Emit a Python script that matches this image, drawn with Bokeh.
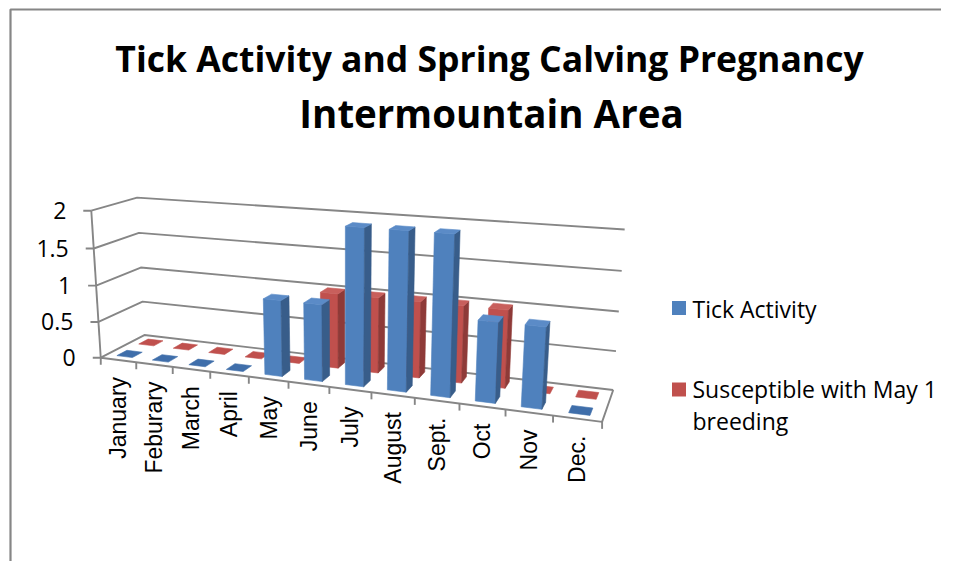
import numpy as np
from bokeh.plotting import figure
from bokeh.models import Range1d, ColumnDataSource
from bokeh.embed import file_html
from bokeh.resources import INLINE
from bokeh.core.properties import value

# ---------------- data ----------------
months = ["January", "Feburary", "March", "April", "May", "June", "July",
          "August", "Sept.", "Oct", "Nov", "Dec."]
tick_activity = [0, 0, 0, 0, 1, 1, 2, 2, 2, 1, 1, 0]
susceptible = [0, 0, 0, 0, 0, 1, 1, 1, 1, 1, 0, 0]
value_ticks = [0, 0.5, 1, 1.5, 2]
value_tick_labels = ["0", "0.5", "1", "1.5", "2"]
series_names = ["Tick Activity", "Susceptible with May 1", "breeding"]
title_lines = ["Tick Activity and Spring Calving Pregnancy", "Intermountain Area"]

# ---------------- 3-D camera (Excel-like perspective) ----------------
YAW = np.radians(20.45)     # rotation around the vertical axis
PITCH = np.radians(14.91)   # elevation
DIST = 23.47                # perspective distance (category units)
SCALE = 43.64               # px per category unit
CX, CY = 344.6, 297.4       # screen centre of the box
DEPTH = 2.023               # floor depth (category units)
HUNIT = 1.819               # height of one value unit (category units)
N = len(months)


def proj(X, Yf, V):
    X = np.asarray(X, float); Yf = np.asarray(Yf, float); V = np.asarray(V, float)
    x = X - N / 2.0
    z = (Yf - 0.5) * DEPTH
    y = HUNIT * (V - 1.0)
    xc = x * np.cos(YAW) + z * np.sin(YAW)
    z1 = -x * np.sin(YAW) + z * np.cos(YAW)
    yc = y * np.cos(PITCH) + z1 * np.sin(PITCH)
    zc = z1 * np.cos(PITCH) - y * np.sin(PITCH)
    s = DIST / (DIST + zc)
    return CX + SCALE * xc * s, CY - SCALE * yc * s


# ---------------- figure ----------------
W, H = 941, 561
p = figure(width=W, height=H, output_backend="svg", toolbar_location=None,
           x_range=Range1d(0, W), y_range=Range1d(H, 0), min_border=0)
p.axis.visible = False
p.grid.visible = False
p.outline_line_color = None
p.background_fill_color = "white"
p.border_fill_color = "white"

GRID = "#868686"

# chart border (top + left)
p.line([10, 10, 2000], [2000, 9, 9], line_color=GRID, line_width=2.2)

# wall gridlines
gx, gy = [], []
for v in value_ticks:
    sx, sy = proj([0, 0, N], [0, 1, 1], [v, v, v])
    gx.append(list(map(float, sx))); gy.append(list(map(float, sy)))
# floor front + right edges
fx, fy = proj([0, N, N], [0, 0, 1], [0, 0, 0])
gx.append(list(map(float, fx))); gy.append(list(map(float, fy)))
# value axis
ax_, ay_ = proj([0, 0], [0, 0], [0, max(value_ticks)])
gx.append(list(map(float, ax_))); gy.append(list(map(float, ay_)))
# value ticks
for v in value_ticks:
    tx_, ty_ = proj(0, 0, v)
    gx.append([float(tx_) - 8, float(tx_)]); gy.append([float(ty_), float(ty_)])
# category ticks
for i in range(N + 1):
    tx_, ty_ = proj(i, 0, 0)
    gx.append([float(tx_), float(tx_)]); gy.append([float(ty_), float(ty_) + 7])
p.multi_line(gx, gy, line_color=GRID, line_width=1.9)

# ---------------- bars ----------------
BW = 0.44
BD = 0.225
colors = [
    dict(front="#4F81BD", side="#385D8A", top="#5B8BC7", flat="#3F6EAA"),
    dict(front="#C0504D", side="#8E3A38", top="#C85F5C", flat="#C0504D"),
]
series = [tick_activity, susceptible]
xs, ys, fc = [], [], []
for s in [1, 0]:
    yc = (s + 0.5) / 2.0
    y0, y1 = yc - BD / 2, yc + BD / 2
    for c in range(N):
        v = series[s][c]
        x0, x1 = c + 0.5 - BW / 2, c + 0.5 + BW / 2
        if v > 0:
            faces = [
                ([x0, x1, x1, x0], [y0, y0, y0, y0], [0, 0, v, v], colors[s]["front"]),
                ([x1, x1, x1, x1], [y0, y1, y1, y0], [0, 0, v, v], colors[s]["side"]),
                ([x0, x1, x1, x0], [y0, y0, y1, y1], [v, v, v, v], colors[s]["top"]),
            ]
        else:
            faces = [([x0, x1, x1, x0], [y0, y0, y1, y1], [0, 0, 0, 0], colors[s]["flat"])]
        for X, Y, V, col in faces:
            sx, sy = proj(X, Y, V)
            xs.append(list(map(float, sx))); ys.append(list(map(float, sy))); fc.append(col)
p.patches("xs", "ys", source=ColumnDataSource(dict(xs=xs, ys=ys, fc=fc)),
          fill_color="fc", line_color="fc", line_width=0.6)

# ---------------- labels ----------------
vx, vy = [], []
for v in value_ticks:
    tx_, ty_ = proj(0, 0, v)
    vx.append(float(tx_) - 25); vy.append(float(ty_))
p.text(vx, vy, text=value_tick_labels, text_align="right", text_baseline="middle",
       text_font=value("Open Sans"), text_font_size="23px", text_color="#000000")

cx_, cy_ = proj(np.arange(N) + 0.5, np.zeros(N), np.zeros(N))
p.text(list(map(float, cx_)), list(map(float, cy_ + 17)), text=months, angle=np.pi / 2,
       text_align="right", text_baseline="middle",
       text_font=value("Liberation Sans"), text_font_size="23px", text_color="#000000")

# title
p.text([489], [57], text=[title_lines[0]], text_align="center", text_baseline="middle",
       text_font=value("Open Sans"), text_font_style="bold", text_font_size="35.5px",
       text_color="#000000")
p.text([491], [112], text=[title_lines[1]], text_align="center", text_baseline="middle",
       text_font=value("Open Sans"), text_font_style="bold", text_font_size="38.5px",
       text_color="#000000")

# legend
p.rect([678.5, 678.5], [307.5, 389], width=14, height=14,
       fill_color=[colors[0]["front"], colors[1]["front"]], line_color=None)
p.text([692, 692, 692], [308, 388, 420], text=series_names, text_align="left",
       text_baseline="middle", text_font=value("Open Sans"), text_font_size="23px",
       text_color="#000000")

open("out.html", "w").write(file_html(p, INLINE))
